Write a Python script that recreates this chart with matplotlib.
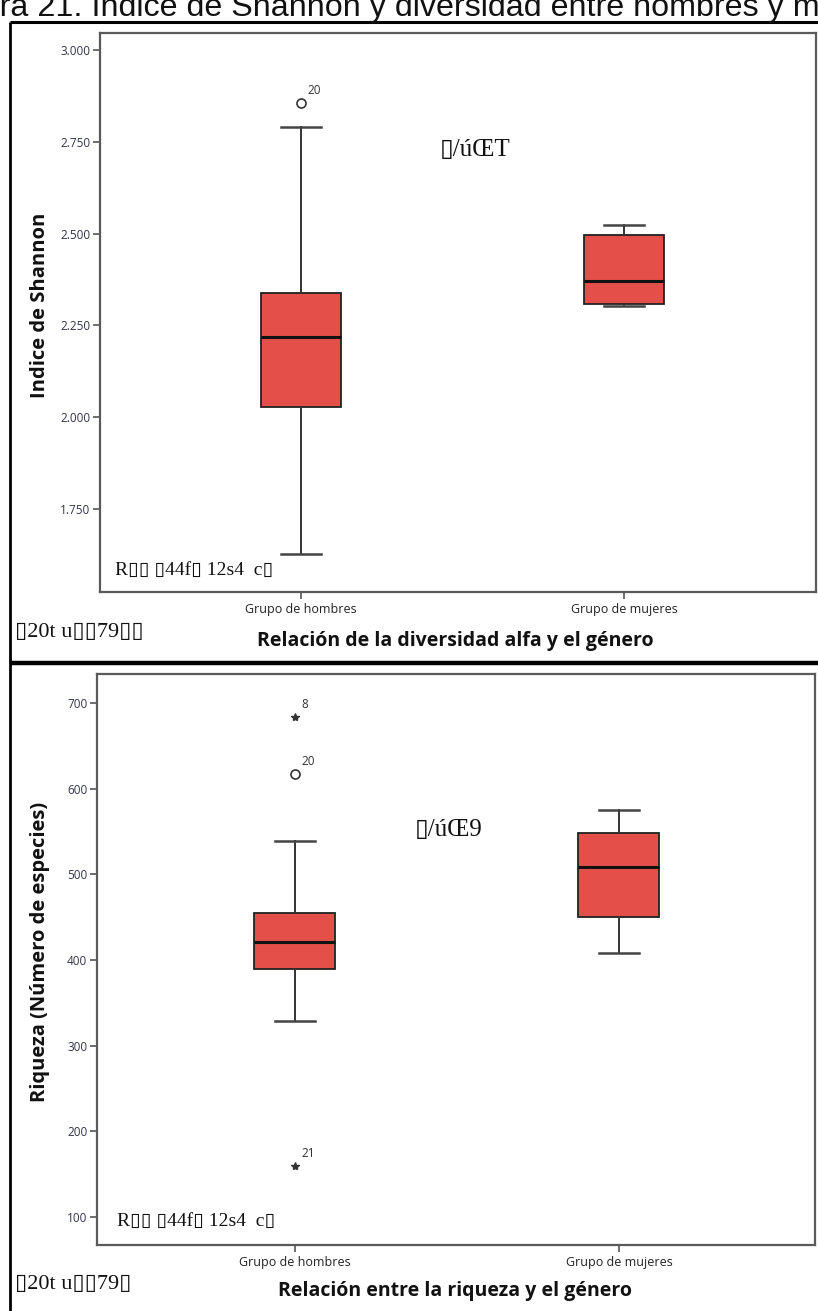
import matplotlib
matplotlib.use('Agg')
import matplotlib.pyplot as plt
from matplotlib.lines import Line2D

W, H = 818, 1311

# datos: indice de Shannon
grupos = ['Grupo de hombres', 'Grupo de mujeres']
shannon_min = [1.627, 2.302]
shannon_q1 = [2.027, 2.308]
shannon_med = [2.218, 2.371]
shannon_q3 = [2.338, 2.497]
shannon_max = [2.790, 2.522]
shannon_ticks = [1.75, 2.00, 2.25, 2.50, 2.75, 3.00]
shannon_ticklabels = ['1.750', '2.000', '2.250', '2.500', '2.750', '3.000']
shannon_atipicos = [2.856]
shannon_atipicos_id = ['20']

# datos: riqueza
riqueza_min = [329, 408]
riqueza_q1 = [390, 450]
riqueza_med = [421, 509]
riqueza_q3 = [455, 548]
riqueza_max = [539, 575]
riqueza_ticks = [100, 200, 300, 400, 500, 600, 700]
riqueza_atipicos = [617]
riqueza_atipicos_id = ['20']
riqueza_extremos = [684, 159]
riqueza_extremos_id = ['8', '21']

ROJO = '#E44F4A'


def fx(x):
    return x / W


def fy(y):
    return 1 - y / H


def linea(fig, x0, y0, x1, y1, lw=2.0, color='black'):
    fig.add_artist(Line2D([fx(x0), fx(x1)], [fy(y0), fy(y1)], lw=lw, color=color,
                          transform=fig.transFigure, solid_capstyle='butt'))


def texto_roto(fig, x, y, s, size=11):
    fig.text(fx(x), fy(y), s, ha='left', va='center', fontsize=size,
             family=['Liberation Serif', 'DejaVu Sans'], color='#111111')


def stats(mn, q1, med, q3, mx, etiquetas):
    res = []
    for i in range(len(etiquetas)):
        res.append({'whislo': mn[i], 'q1': q1[i], 'med': med[i], 'q3': q3[i],
                    'whishi': mx[i], 'label': etiquetas[i]})
    return res


def dibujar_cajas(ax, st):
    ax.bxp(st, positions=[1, 2], widths=0.25, capwidths=0.125, patch_artist=True,
           showfliers=False,
           boxprops=dict(facecolor=ROJO, edgecolor='#222222', linewidth=1.3),
           whiskerprops=dict(color='#333333', linewidth=1.4),
           capprops=dict(color='#444444', linewidth=1.8),
           medianprops=dict(color='#111111', linewidth=2.2))


def estilo_ejes(ax):
    for sp in ax.spines.values():
        sp.set_color('#5a5a5a')
        sp.set_linewidth(1.6)
    ax.tick_params(axis='both', direction='out', length=5, width=1.2, color='#555555',
                   labelsize=8.5, labelcolor='#33334a', pad=2)
    ax.tick_params(axis='x', labelsize=9, labelcolor='#222222', pad=3)
    for t in ax.get_xticklabels() + ax.get_yticklabels():
        t.set_family('Open Sans')


def etiquetar(ax, xs, ys, ids):
    for x, y, t in zip(xs, ys, ids):
        ax.annotate(t, (x, y), xytext=(6, 6), textcoords='offset pixels',
                    fontsize=8.5, color='#333333', ha='left', va='bottom',
                    family='Open Sans')


fig = plt.figure(figsize=(W / 100, H / 100), dpi=100)

# titulo de la figura, recortado por el borde superior
tmp = fig.text(0, 0, 'Figu', fontsize=23.2, family='Liberation Sans')
fig.canvas.draw()
ancho = tmp.get_window_extent().width
tmp.remove()
fig.text(-ancho / W, fy(16), 'Figura 21. Indice de Shannon y diversidad entre hombres y mujeres',
         fontsize=23.2, family='Liberation Sans', ha='left', va='baseline', color='#111111')

# marcos
linea(fig, 10, 22, 818, 22, lw=2.2)
linea(fig, 10, 22, 10, 1311, lw=2.0)
linea(fig, 10, 663, 818, 663, lw=3.2)

# panel superior: indice de Shannon
ax1 = fig.add_axes([fx(100), fy(592), fx(816) - fx(100), fy(33) - fy(592)])
dibujar_cajas(ax1, stats(shannon_min, shannon_q1, shannon_med, shannon_q3, shannon_max, grupos))
ax1.plot([1] * len(shannon_atipicos), shannon_atipicos, 'o', mfc='white', mec='#333333',
         ms=6.5, mew=1.2)
etiquetar(ax1, [1] * len(shannon_atipicos), shannon_atipicos, shannon_atipicos_id)
ax1.set_xlim(0.378, 2.594)
ax1.set_ylim(1.524, 3.046)
ax1.set_yticks(shannon_ticks)
ax1.set_yticklabels(shannon_ticklabels)
estilo_ejes(ax1)
fig.text(fx(40), fy(305), 'Indice de Shannon', rotation=90, ha='center', va='center',
         fontsize=14.5, fontweight='bold', family='Open Sans', color='#111111')
fig.text(fx(455), fy(641), 'Relación de la diversidad alfa y el género', ha='center',
         va='center', fontsize=14, fontweight='bold', family='Open Sans', color='#111111')
texto_roto(fig, 440, 150, '▯/úŒT', size=18)
texto_roto(fig, 115, 570, 'R▯▯ ▯44f▯ 12s4  c▯', size=14)
texto_roto(fig, 15, 632, '▯20t u▯▯79▯▯', size=16)

# panel inferior: riqueza
ax2 = fig.add_axes([fx(97), fy(1245), fx(815) - fx(97), fy(674) - fy(1245)])
dibujar_cajas(ax2, stats(riqueza_min, riqueza_q1, riqueza_med, riqueza_q3, riqueza_max, grupos))
ax2.plot([1] * len(riqueza_atipicos), riqueza_atipicos, 'o', mfc='white', mec='#333333',
         ms=6.5, mew=1.2)
ax2.plot([1] * len(riqueza_extremos), riqueza_extremos, '*', color='#333333', ms=6)
etiquetar(ax2, [1] * len(riqueza_atipicos), riqueza_atipicos, riqueza_atipicos_id)
etiquetar(ax2, [1] * len(riqueza_extremos), riqueza_extremos, riqueza_extremos_id)
ax2.set_xlim(0.389, 2.605)
ax2.set_ylim(67.3, 733.9)
ax2.set_yticks(riqueza_ticks)
estilo_ejes(ax2)
fig.text(fx(40), fy(952), 'Riqueza (Número de especies)', rotation=90, ha='center',
         va='center', fontsize=14.5, fontweight='bold', family='Open Sans', color='#111111')
fig.text(fx(455), fy(1291), 'Relación entre la riqueza y el género', ha='center',
         va='center', fontsize=14, fontweight='bold', family='Open Sans', color='#111111')
texto_roto(fig, 415, 830, '▯/úŒ9', size=18)
texto_roto(fig, 117, 1221, 'R▯▯ ▯44f▯ 12s4  c▯', size=14)
texto_roto(fig, 15, 1285, '▯20t u▯▯79▯', size=16)

fig.savefig('out.png', dpi=100)
